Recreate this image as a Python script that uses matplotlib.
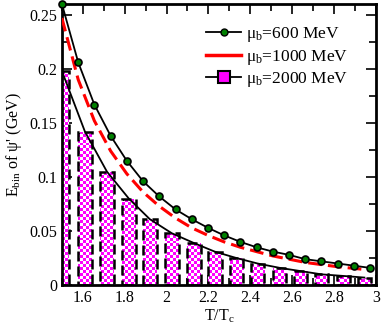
import numpy as np
import matplotlib
matplotlib.use("Agg")
from matplotlib import pyplot as plt
from matplotlib.lines import Line2D
from matplotlib.ticker import MultipleLocator, FormatStrFormatter

plt.rcParams['font.family'] = ['Liberation Serif', 'DejaVu Serif']
plt.rcParams['mathtext.fontset'] = 'custom'
plt.rcParams['mathtext.rm'] = 'Liberation Serif'
plt.rcParams['mathtext.it'] = 'Liberation Serif:italic'

# mu_b = 600 MeV (line + green circles)
t600 = [1.5, 1.578, 1.655, 1.733, 1.81, 1.888, 1.965, 2.043, 2.12, 2.198,
        2.275, 2.353, 2.43, 2.508, 2.585, 2.663, 2.74, 2.818, 2.895, 2.97]
e600 = [0.26, 0.206, 0.167, 0.138, 0.115, 0.096, 0.082, 0.070, 0.061, 0.053,
        0.046, 0.040, 0.035, 0.031, 0.028, 0.024, 0.022, 0.020, 0.018, 0.016]
# mu_b = 1000 MeV (red dashed)
e1000 = [0.247, 0.190, 0.152, 0.124, 0.103, 0.086, 0.073, 0.062, 0.053, 0.046,
         0.040, 0.035, 0.031, 0.027, 0.024, 0.021, 0.019, 0.017, 0.0155, 0.014]
# mu_b = 2000 MeV (bars + line)
t2000 = [1.5, 1.61, 1.715, 1.82, 1.92, 2.025, 2.13, 2.23, 2.335, 2.435,
         2.54, 2.64, 2.74, 2.845, 2.945]
e2000 = [0.198, 0.142, 0.105, 0.080, 0.061, 0.048, 0.039, 0.031, 0.025, 0.020,
         0.016, 0.013, 0.010, 0.0085, 0.007]

fig = plt.figure(figsize=(3.82, 3.27), dpi=100)
ax = fig.add_axes([0.162, 0.128, 0.822, 0.86])
ax.set_xlim(1.5, 3)
ax.set_ylim(0, 0.26)

# checkered magenta bars
checker = np.indices((95, 105)).sum(axis=0) % 2
cmap = matplotlib.colors.ListedColormap(['white', '#ff00ff'])
bars = ax.bar(t2000, e2000, width=0.065, facecolor='none', edgecolor='black',
              linewidth=1.8, linestyle=(0, (4, 2)), zorder=3)
for b in bars:
    im = ax.imshow(checker, extent=[1.5, 3, 0, 0.26], aspect='auto', cmap=cmap,
                   interpolation='nearest', zorder=2)
    im.set_clip_path(b)
ax.plot(t2000, e2000, color='black', lw=1.3, zorder=4)

ax.plot(t600, e1000, color='red', lw=2.2, dashes=[4.5, 2], zorder=4)
ax.plot(t600, e600, color='black', lw=1.3, marker='o', ms=5,
        mfc='#008000', mec='black', mew=1.2, zorder=5, clip_on=False)

ax.set_xlim(1.5, 3)
ax.set_ylim(0, 0.26)
ax.xaxis.set_major_locator(MultipleLocator(0.2))
ax.xaxis.set_minor_locator(MultipleLocator(0.1))
ax.yaxis.set_major_locator(MultipleLocator(0.05))
ax.yaxis.set_minor_locator(MultipleLocator(0.025))
ax.xaxis.set_major_formatter(FormatStrFormatter('%g'))
ax.yaxis.set_major_formatter(FormatStrFormatter('%g'))
ax.tick_params(which='both', direction='in', top=True, right=True, labelsize=11.5, width=1.2)
ax.tick_params(which='major', length=7)
ax.tick_params(which='minor', length=5)
for s in ax.spines.values():
    s.set_linewidth(2)
ax.set_xlabel('T/T$_\\mathrm{c}$', fontsize=11.5, labelpad=1)
ax.set_ylabel("E$_\\mathrm{bin}$ of \u03c8' (GeV)", fontsize=11.5, labelpad=4)

handles = [
    Line2D([], [], color='black', lw=1.3, marker='o', ms=5, mfc='#008000', mec='black'),
    Line2D([], [], color='red', lw=2.5),
    Line2D([], [], color='black', lw=1.3, marker='s', ms=8, mfc='#ff00ff', mec='black', mew=1.5),
]
labels = ['\u03bc$_\\mathrm{b}$=600 MeV', '\u03bc$_\\mathrm{b}$=1000 MeV', '\u03bc$_\\mathrm{b}$=2000 MeV']
ax.legend(handles, labels, loc='upper left', frameon=False, fontsize=12.5,
          handlelength=2.0, handletextpad=0.3, labelspacing=0.2,
          bbox_to_anchor=(0.41, 0.98))

fig.savefig('out.png', dpi=100)
